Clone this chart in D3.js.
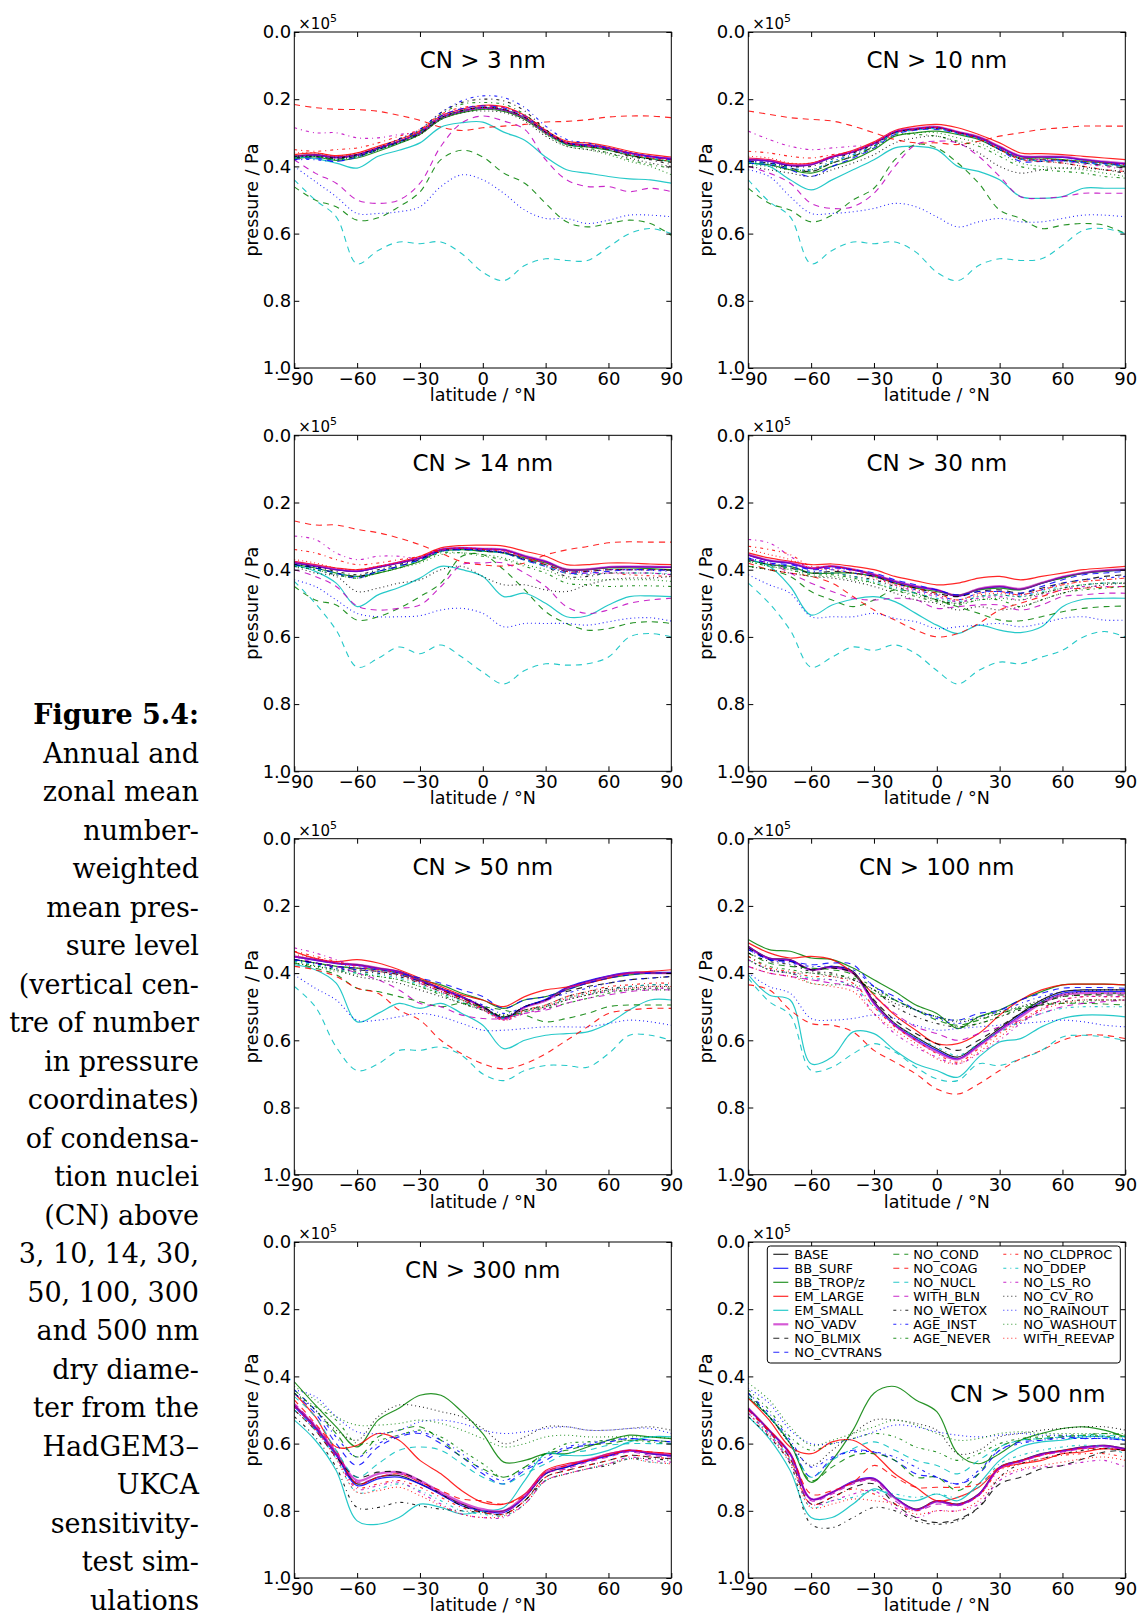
<!DOCTYPE html>
<html><head><meta charset="utf-8">
<script src="https://cdn.jsdelivr.net/npm/d3@7"></script>
<style>body{margin:0;background:#fff}svg{display:block}</style>
</head><body>
<script>
const latitudes = [-90,-80,-70,-60,-50,-40,-30,-20,-10,0,10,20,30,40,50,60,70,80,90];
const seriesNames = ["BASE","BB_SURF","BB_TROP/z","EM_LARGE","EM_SMALL","NO_VADV","NO_BLMIX","NO_CVTRANS","NO_COND","NO_COAG","NO_NUCL","WITH_BLN","NO_WETOX","AGE_INST","AGE_NEVER","NO_CLDPROC","NO_DDEP","NO_LS_RO","NO_CV_RO","NO_RAINOUT","NO_WASHOUT","WITH_REEVAP"];
const panelTitles = ["CN > 3 nm","CN > 10 nm","CN > 14 nm","CN > 30 nm","CN > 50 nm","CN > 100 nm","CN > 300 nm","CN > 500 nm"];
const xTicks = [-90,-60,-30,0,30,60,90];
const yTicks = [0.0,0.2,0.4,0.6,0.8,1.0];
const captionLines = ["Figure 5.4:","Annual and","zonal mean","number-","weighted","mean pres-","sure level","(vertical cen-","tre of number","in pressure","coordinates)","of condensa-","tion nuclei","(CN) above","3, 10, 14, 30,","50, 100, 300","and 500 nm","dry diame-","ter from the","HadGEM3–","UKCA","sensitivity-","test sim-","ulations"];

const cn3 = [
[0.37,0.365,0.372,0.365,0.345,0.325,0.30,0.255,0.235,0.225,0.232,0.255,0.298,0.33,0.336,0.345,0.36,0.37,0.378],
[0.372,0.367,0.374,0.366,0.346,0.326,0.30,0.256,0.236,0.226,0.232,0.256,0.298,0.33,0.336,0.345,0.36,0.37,0.376],
[0.378,0.372,0.382,0.375,0.355,0.332,0.305,0.26,0.24,0.23,0.236,0.26,0.302,0.335,0.342,0.352,0.367,0.377,0.385],
[0.365,0.36,0.368,0.36,0.34,0.32,0.295,0.25,0.23,0.218,0.222,0.248,0.292,0.325,0.33,0.34,0.355,0.365,0.372],
[0.372,0.377,0.39,0.405,0.37,0.352,0.33,0.283,0.27,0.268,0.298,0.322,0.372,0.41,0.42,0.43,0.437,0.44,0.45],
[0.371,0.366,0.373,0.366,0.346,0.326,0.301,0.256,0.236,0.226,0.232,0.256,0.299,0.331,0.337,0.346,0.361,0.371,0.377],
[0.375,0.37,0.378,0.37,0.35,0.328,0.302,0.256,0.234,0.224,0.23,0.254,0.298,0.333,0.34,0.35,0.366,0.378,0.388],
[0.38,0.375,0.385,0.372,0.35,0.326,0.298,0.25,0.228,0.22,0.226,0.25,0.295,0.33,0.338,0.347,0.362,0.372,0.38],
[0.461,0.50,0.52,0.56,0.553,0.52,0.476,0.38,0.352,0.372,0.42,0.45,0.51,0.565,0.58,0.57,0.56,0.57,0.605],
[0.216,0.225,0.23,0.231,0.236,0.248,0.263,0.283,0.293,0.285,0.28,0.275,0.268,0.266,0.261,0.253,0.25,0.25,0.255],
[0.44,0.50,0.55,0.69,0.65,0.625,0.63,0.625,0.66,0.715,0.74,0.695,0.675,0.68,0.68,0.64,0.60,0.585,0.60],
[0.38,0.42,0.45,0.50,0.51,0.50,0.45,0.34,0.27,0.25,0.265,0.29,0.38,0.44,0.46,0.46,0.475,0.465,0.475],
[0.37,0.37,0.375,0.365,0.345,0.318,0.29,0.24,0.21,0.20,0.205,0.235,0.29,0.33,0.34,0.35,0.37,0.38,0.395],
[0.38,0.38,0.385,0.37,0.345,0.32,0.29,0.24,0.205,0.19,0.195,0.225,0.28,0.32,0.33,0.345,0.36,0.37,0.38],
[0.375,0.37,0.38,0.37,0.35,0.325,0.295,0.245,0.215,0.21,0.215,0.245,0.295,0.335,0.345,0.36,0.38,0.395,0.405],
[0.35,0.355,0.35,0.345,0.33,0.31,0.29,0.245,0.225,0.22,0.225,0.25,0.295,0.33,0.335,0.345,0.36,0.375,0.385],
[0.375,0.37,0.38,0.37,0.35,0.33,0.30,0.255,0.235,0.225,0.23,0.255,0.30,0.335,0.34,0.35,0.365,0.375,0.385],
[0.285,0.30,0.30,0.315,0.315,0.305,0.295,0.25,0.23,0.22,0.225,0.25,0.295,0.33,0.34,0.345,0.36,0.37,0.38],
[0.37,0.37,0.375,0.37,0.35,0.33,0.305,0.26,0.24,0.235,0.24,0.265,0.31,0.34,0.35,0.36,0.375,0.39,0.40],
[0.40,0.445,0.49,0.54,0.54,0.535,0.52,0.46,0.425,0.44,0.48,0.53,0.555,0.555,0.57,0.56,0.545,0.545,0.55],
[0.37,0.37,0.38,0.37,0.35,0.33,0.305,0.26,0.24,0.23,0.235,0.26,0.305,0.34,0.35,0.365,0.385,0.40,0.425],
[0.36,0.36,0.37,0.36,0.345,0.325,0.30,0.255,0.235,0.225,0.23,0.255,0.30,0.33,0.34,0.35,0.365,0.375,0.38]];

const cn10 = [
[0.38,0.384,0.397,0.395,0.372,0.357,0.332,0.298,0.288,0.283,0.298,0.313,0.342,0.37,0.372,0.372,0.38,0.387,0.392],
[0.381,0.385,0.398,0.395,0.373,0.357,0.332,0.298,0.288,0.284,0.298,0.314,0.343,0.37,0.372,0.373,0.381,0.387,0.393],
[0.39,0.395,0.41,0.42,0.40,0.38,0.35,0.31,0.30,0.295,0.305,0.32,0.35,0.375,0.375,0.38,0.385,0.39,0.40],
[0.375,0.38,0.392,0.39,0.37,0.352,0.327,0.293,0.28,0.275,0.285,0.305,0.33,0.36,0.362,0.365,0.37,0.375,0.38],
[0.39,0.40,0.44,0.47,0.44,0.41,0.38,0.345,0.34,0.35,0.40,0.415,0.44,0.49,0.495,0.49,0.465,0.465,0.465],
[0.379,0.383,0.396,0.394,0.371,0.356,0.331,0.297,0.287,0.282,0.297,0.312,0.341,0.369,0.371,0.371,0.379,0.386,0.391],
[0.385,0.39,0.405,0.415,0.39,0.37,0.34,0.30,0.29,0.287,0.30,0.318,0.35,0.378,0.38,0.382,0.39,0.397,0.405],
[0.39,0.395,0.41,0.43,0.40,0.375,0.345,0.305,0.292,0.29,0.302,0.318,0.35,0.385,0.385,0.383,0.388,0.392,0.398],
[0.465,0.51,0.53,0.565,0.545,0.50,0.465,0.38,0.335,0.345,0.39,0.45,0.53,0.555,0.585,0.575,0.57,0.575,0.60],
[0.235,0.245,0.255,0.26,0.265,0.28,0.30,0.32,0.33,0.33,0.335,0.325,0.31,0.30,0.29,0.285,0.28,0.28,0.28],
[0.44,0.505,0.55,0.69,0.65,0.625,0.63,0.625,0.655,0.715,0.74,0.695,0.675,0.68,0.675,0.635,0.59,0.585,0.60],
[0.40,0.42,0.45,0.51,0.525,0.52,0.48,0.40,0.335,0.325,0.33,0.37,0.43,0.49,0.495,0.49,0.48,0.48,0.48],
[0.385,0.39,0.40,0.40,0.378,0.36,0.335,0.30,0.29,0.285,0.30,0.317,0.347,0.378,0.385,0.39,0.40,0.41,0.42],
[0.385,0.39,0.405,0.41,0.385,0.365,0.338,0.30,0.29,0.286,0.30,0.316,0.346,0.378,0.382,0.382,0.388,0.393,0.398],
[0.39,0.395,0.41,0.415,0.39,0.37,0.34,0.305,0.305,0.31,0.325,0.34,0.37,0.40,0.41,0.415,0.42,0.43,0.435],
[0.355,0.36,0.37,0.375,0.365,0.355,0.33,0.30,0.29,0.285,0.30,0.318,0.35,0.38,0.385,0.39,0.40,0.41,0.415],
[0.388,0.392,0.405,0.41,0.385,0.365,0.338,0.302,0.292,0.288,0.302,0.318,0.348,0.378,0.383,0.385,0.39,0.395,0.40],
[0.295,0.32,0.34,0.35,0.345,0.34,0.335,0.30,0.29,0.285,0.30,0.316,0.346,0.375,0.38,0.385,0.393,0.40,0.41],
[0.40,0.41,0.42,0.43,0.41,0.39,0.365,0.33,0.315,0.31,0.33,0.36,0.40,0.42,0.41,0.405,0.405,0.41,0.415],
[0.41,0.43,0.49,0.54,0.54,0.535,0.525,0.51,0.52,0.55,0.58,0.565,0.555,0.565,0.565,0.555,0.545,0.545,0.55],
[0.395,0.40,0.41,0.41,0.39,0.37,0.345,0.31,0.30,0.30,0.315,0.33,0.36,0.39,0.40,0.405,0.41,0.42,0.43],
[0.37,0.375,0.39,0.39,0.37,0.355,0.33,0.297,0.288,0.283,0.298,0.315,0.345,0.375,0.378,0.38,0.385,0.39,0.395]];

const cn14 = [
[0.379,0.389,0.40,0.405,0.393,0.38,0.366,0.341,0.336,0.339,0.341,0.36,0.376,0.40,0.40,0.393,0.392,0.392,0.393],
[0.38,0.39,0.40,0.405,0.393,0.38,0.365,0.34,0.336,0.338,0.341,0.36,0.376,0.40,0.399,0.393,0.391,0.392,0.393],
[0.385,0.395,0.41,0.42,0.41,0.395,0.375,0.345,0.34,0.345,0.35,0.365,0.38,0.40,0.40,0.395,0.395,0.397,0.40],
[0.375,0.385,0.395,0.40,0.39,0.377,0.36,0.335,0.328,0.327,0.33,0.345,0.36,0.385,0.385,0.38,0.38,0.383,0.385],
[0.386,0.405,0.44,0.51,0.475,0.453,0.425,0.39,0.40,0.42,0.48,0.47,0.50,0.54,0.537,0.505,0.48,0.478,0.48],
[0.378,0.388,0.399,0.404,0.392,0.379,0.365,0.34,0.335,0.338,0.34,0.359,0.375,0.399,0.399,0.392,0.391,0.391,0.392],
[0.385,0.395,0.41,0.42,0.405,0.39,0.37,0.345,0.34,0.345,0.35,0.37,0.385,0.405,0.405,0.40,0.40,0.40,0.40],
[0.385,0.395,0.41,0.425,0.405,0.39,0.37,0.345,0.34,0.342,0.35,0.372,0.39,0.41,0.41,0.405,0.40,0.40,0.402],
[0.45,0.49,0.505,0.55,0.54,0.515,0.48,0.44,0.36,0.355,0.40,0.46,0.525,0.56,0.58,0.575,0.56,0.555,0.56],
[0.255,0.267,0.267,0.28,0.29,0.306,0.326,0.351,0.376,0.386,0.389,0.38,0.356,0.341,0.331,0.32,0.317,0.318,0.318],
[0.435,0.50,0.58,0.69,0.664,0.63,0.65,0.624,0.66,0.705,0.74,0.70,0.68,0.684,0.68,0.66,0.60,0.59,0.60],
[0.40,0.42,0.45,0.508,0.52,0.515,0.505,0.45,0.385,0.38,0.38,0.41,0.45,0.51,0.53,0.52,0.50,0.49,0.485],
[0.385,0.392,0.405,0.415,0.40,0.385,0.368,0.345,0.34,0.342,0.35,0.37,0.39,0.42,0.42,0.41,0.41,0.41,0.415],
[0.39,0.40,0.415,0.42,0.405,0.39,0.37,0.345,0.34,0.342,0.348,0.368,0.385,0.405,0.405,0.40,0.40,0.402,0.405],
[0.39,0.40,0.415,0.425,0.41,0.395,0.375,0.35,0.35,0.36,0.37,0.39,0.41,0.44,0.445,0.45,0.448,0.448,0.45],
[0.34,0.35,0.37,0.385,0.38,0.37,0.36,0.34,0.336,0.34,0.345,0.365,0.385,0.41,0.415,0.41,0.415,0.418,0.42],
[0.388,0.398,0.41,0.42,0.405,0.39,0.372,0.347,0.342,0.345,0.352,0.372,0.39,0.41,0.415,0.41,0.41,0.41,0.412],
[0.30,0.31,0.35,0.37,0.36,0.36,0.366,0.343,0.337,0.34,0.345,0.365,0.38,0.405,0.41,0.41,0.41,0.41,0.415],
[0.39,0.41,0.42,0.465,0.455,0.44,0.43,0.40,0.39,0.42,0.445,0.445,0.46,0.465,0.445,0.43,0.425,0.425,0.42],
[0.43,0.45,0.49,0.53,0.54,0.54,0.537,0.52,0.515,0.53,0.57,0.56,0.56,0.56,0.565,0.555,0.545,0.543,0.553],
[0.39,0.40,0.415,0.425,0.41,0.395,0.38,0.355,0.35,0.355,0.365,0.385,0.40,0.425,0.43,0.43,0.43,0.43,0.435],
[0.37,0.38,0.395,0.40,0.39,0.378,0.362,0.34,0.335,0.338,0.342,0.362,0.38,0.405,0.405,0.40,0.40,0.40,0.40]];

const cn30 = [
[0.356,0.373,0.38,0.396,0.39,0.40,0.415,0.435,0.45,0.46,0.478,0.458,0.45,0.458,0.44,0.422,0.41,0.403,0.40],
[0.357,0.374,0.381,0.397,0.391,0.401,0.416,0.436,0.451,0.461,0.479,0.459,0.451,0.459,0.441,0.423,0.411,0.404,0.401],
[0.37,0.385,0.39,0.41,0.41,0.41,0.42,0.44,0.455,0.465,0.475,0.46,0.455,0.46,0.44,0.425,0.41,0.405,0.40],
[0.35,0.365,0.375,0.385,0.383,0.39,0.40,0.42,0.433,0.445,0.44,0.425,0.42,0.43,0.42,0.41,0.40,0.395,0.39],
[0.37,0.39,0.45,0.535,0.505,0.488,0.48,0.495,0.53,0.565,0.59,0.565,0.58,0.587,0.57,0.51,0.488,0.485,0.485],
[0.355,0.372,0.379,0.395,0.389,0.399,0.414,0.434,0.449,0.46,0.477,0.457,0.449,0.457,0.439,0.421,0.409,0.402,0.399],
[0.37,0.385,0.395,0.41,0.405,0.41,0.42,0.44,0.455,0.47,0.48,0.465,0.46,0.47,0.455,0.44,0.43,0.42,0.415],
[0.365,0.38,0.385,0.40,0.395,0.40,0.41,0.43,0.445,0.46,0.475,0.465,0.465,0.47,0.45,0.43,0.415,0.41,0.405],
[0.39,0.40,0.42,0.465,0.49,0.51,0.49,0.46,0.47,0.49,0.51,0.53,0.55,0.552,0.54,0.525,0.515,0.51,0.508],
[0.38,0.40,0.41,0.42,0.44,0.48,0.52,0.55,0.58,0.60,0.59,0.56,0.52,0.50,0.48,0.46,0.455,0.452,0.45],
[0.44,0.50,0.58,0.69,0.66,0.63,0.64,0.624,0.65,0.70,0.74,0.70,0.675,0.68,0.66,0.64,0.60,0.584,0.60],
[0.37,0.38,0.41,0.44,0.465,0.485,0.49,0.485,0.49,0.515,0.51,0.505,0.505,0.52,0.505,0.48,0.475,0.47,0.47],
[0.37,0.385,0.395,0.41,0.41,0.42,0.43,0.45,0.47,0.49,0.50,0.48,0.475,0.48,0.47,0.455,0.445,0.44,0.44],
[0.365,0.38,0.39,0.405,0.40,0.41,0.42,0.44,0.46,0.475,0.49,0.47,0.465,0.475,0.46,0.44,0.43,0.425,0.42],
[0.375,0.39,0.40,0.415,0.415,0.425,0.44,0.46,0.48,0.495,0.505,0.49,0.49,0.51,0.49,0.47,0.46,0.455,0.45],
[0.33,0.34,0.355,0.39,0.39,0.40,0.415,0.44,0.455,0.47,0.49,0.47,0.465,0.475,0.46,0.445,0.435,0.43,0.425],
[0.37,0.385,0.395,0.41,0.41,0.42,0.435,0.455,0.47,0.485,0.495,0.48,0.475,0.48,0.465,0.45,0.445,0.44,0.44],
[0.31,0.32,0.36,0.395,0.395,0.405,0.42,0.445,0.465,0.48,0.495,0.485,0.48,0.49,0.475,0.46,0.45,0.45,0.45],
[0.39,0.40,0.41,0.42,0.425,0.435,0.45,0.47,0.49,0.50,0.52,0.51,0.52,0.51,0.49,0.47,0.455,0.445,0.44],
[0.415,0.445,0.47,0.54,0.54,0.54,0.53,0.545,0.555,0.575,0.57,0.565,0.56,0.57,0.56,0.545,0.54,0.55,0.55],
[0.375,0.39,0.40,0.42,0.42,0.43,0.44,0.46,0.475,0.49,0.50,0.49,0.485,0.49,0.47,0.455,0.445,0.44,0.44],
[0.34,0.355,0.37,0.395,0.40,0.41,0.425,0.445,0.46,0.475,0.49,0.475,0.47,0.475,0.46,0.445,0.435,0.43,0.425]];

const cn50 = [
[0.35,0.36,0.37,0.375,0.385,0.395,0.42,0.445,0.47,0.50,0.535,0.50,0.48,0.445,0.425,0.41,0.40,0.40,0.40],
[0.352,0.362,0.372,0.377,0.387,0.397,0.422,0.447,0.472,0.50,0.533,0.50,0.478,0.443,0.423,0.408,0.398,0.398,0.398],
[0.36,0.37,0.38,0.385,0.39,0.40,0.42,0.435,0.46,0.48,0.505,0.48,0.47,0.45,0.43,0.415,0.405,0.40,0.40],
[0.336,0.356,0.366,0.36,0.37,0.39,0.415,0.44,0.465,0.48,0.50,0.47,0.45,0.442,0.43,0.415,0.40,0.395,0.39],
[0.375,0.39,0.43,0.545,0.52,0.49,0.505,0.49,0.52,0.555,0.625,0.60,0.585,0.58,0.575,0.55,0.51,0.48,0.48],
[0.35,0.36,0.37,0.375,0.385,0.396,0.422,0.447,0.472,0.502,0.537,0.502,0.482,0.447,0.427,0.41,0.40,0.40,0.40],
[0.36,0.37,0.38,0.39,0.395,0.405,0.425,0.45,0.475,0.50,0.53,0.50,0.48,0.455,0.44,0.43,0.42,0.415,0.41],
[0.36,0.37,0.38,0.385,0.39,0.40,0.415,0.43,0.45,0.47,0.505,0.48,0.47,0.45,0.43,0.415,0.405,0.40,0.40],
[0.37,0.385,0.405,0.445,0.455,0.47,0.485,0.50,0.49,0.50,0.51,0.525,0.545,0.535,0.52,0.50,0.495,0.495,0.495],
[0.38,0.39,0.41,0.445,0.46,0.51,0.54,0.60,0.64,0.67,0.685,0.67,0.64,0.60,0.56,0.52,0.51,0.505,0.505],
[0.44,0.50,0.62,0.69,0.67,0.63,0.63,0.62,0.645,0.70,0.72,0.69,0.675,0.675,0.68,0.64,0.585,0.585,0.60],
[0.35,0.37,0.38,0.40,0.42,0.45,0.49,0.50,0.525,0.535,0.535,0.52,0.51,0.49,0.475,0.465,0.455,0.45,0.45],
[0.36,0.37,0.385,0.395,0.40,0.41,0.43,0.455,0.48,0.505,0.53,0.51,0.495,0.47,0.455,0.445,0.44,0.435,0.435],
[0.36,0.372,0.385,0.39,0.395,0.405,0.425,0.445,0.47,0.495,0.52,0.50,0.48,0.46,0.445,0.43,0.42,0.415,0.41],
[0.365,0.378,0.39,0.40,0.41,0.42,0.44,0.465,0.49,0.51,0.53,0.515,0.505,0.49,0.475,0.46,0.45,0.445,0.445],
[0.335,0.35,0.365,0.38,0.39,0.40,0.425,0.45,0.475,0.505,0.535,0.51,0.495,0.47,0.455,0.44,0.435,0.43,0.43],
[0.365,0.375,0.39,0.40,0.405,0.415,0.435,0.46,0.485,0.51,0.535,0.515,0.50,0.475,0.46,0.45,0.44,0.435,0.435],
[0.325,0.34,0.36,0.38,0.39,0.40,0.43,0.455,0.48,0.51,0.54,0.52,0.505,0.48,0.465,0.455,0.45,0.445,0.445],
[0.37,0.38,0.39,0.41,0.42,0.43,0.45,0.47,0.49,0.51,0.525,0.51,0.50,0.48,0.465,0.45,0.445,0.44,0.44],
[0.405,0.445,0.48,0.54,0.54,0.53,0.52,0.53,0.55,0.57,0.57,0.565,0.56,0.56,0.56,0.55,0.54,0.545,0.555],
[0.37,0.38,0.395,0.405,0.41,0.42,0.44,0.46,0.48,0.505,0.525,0.51,0.50,0.48,0.465,0.455,0.45,0.45,0.45],
[0.345,0.355,0.37,0.385,0.395,0.405,0.43,0.455,0.48,0.51,0.54,0.515,0.50,0.475,0.46,0.45,0.445,0.44,0.44]];

const cn100 = [
[0.32,0.355,0.36,0.39,0.38,0.395,0.485,0.55,0.59,0.625,0.65,0.61,0.565,0.52,0.48,0.455,0.45,0.45,0.45],
[0.322,0.357,0.362,0.39,0.382,0.398,0.49,0.555,0.595,0.63,0.655,0.615,0.57,0.525,0.485,0.46,0.455,0.455,0.455],
[0.30,0.33,0.335,0.355,0.36,0.385,0.42,0.455,0.495,0.52,0.565,0.53,0.51,0.48,0.455,0.435,0.433,0.433,0.435],
[0.31,0.34,0.355,0.35,0.36,0.40,0.465,0.525,0.57,0.61,0.61,0.58,0.525,0.48,0.45,0.435,0.433,0.433,0.435],
[0.405,0.465,0.48,0.67,0.65,0.575,0.58,0.63,0.67,0.69,0.71,0.65,0.605,0.595,0.56,0.535,0.525,0.525,0.53],
[0.322,0.357,0.362,0.39,0.383,0.40,0.49,0.555,0.60,0.635,0.657,0.617,0.572,0.53,0.49,0.465,0.46,0.46,0.46],
[0.325,0.36,0.365,0.39,0.385,0.40,0.48,0.54,0.58,0.61,0.63,0.60,0.56,0.52,0.49,0.47,0.465,0.465,0.465],
[0.33,0.36,0.365,0.375,0.37,0.375,0.44,0.47,0.51,0.53,0.54,0.52,0.51,0.48,0.46,0.445,0.443,0.443,0.445],
[0.34,0.37,0.38,0.385,0.39,0.405,0.46,0.48,0.51,0.54,0.555,0.54,0.52,0.505,0.495,0.49,0.49,0.492,0.495],
[0.435,0.45,0.51,0.55,0.555,0.575,0.63,0.665,0.70,0.745,0.76,0.73,0.69,0.655,0.63,0.60,0.585,0.585,0.595],
[0.415,0.485,0.525,0.69,0.68,0.64,0.61,0.635,0.68,0.715,0.72,0.67,0.675,0.655,0.63,0.59,0.585,0.59,0.60],
[0.38,0.40,0.41,0.42,0.43,0.44,0.47,0.52,0.56,0.58,0.60,0.58,0.56,0.54,0.52,0.50,0.49,0.485,0.48],
[0.34,0.365,0.375,0.395,0.40,0.42,0.45,0.50,0.53,0.55,0.56,0.55,0.53,0.51,0.495,0.485,0.48,0.48,0.48],
[0.33,0.36,0.37,0.38,0.38,0.39,0.44,0.48,0.51,0.535,0.55,0.53,0.515,0.49,0.47,0.455,0.45,0.45,0.45],
[0.35,0.38,0.39,0.40,0.405,0.415,0.44,0.48,0.51,0.53,0.56,0.55,0.53,0.505,0.485,0.47,0.465,0.46,0.46],
[0.35,0.385,0.395,0.41,0.41,0.43,0.50,0.56,0.60,0.64,0.665,0.625,0.58,0.54,0.505,0.48,0.47,0.47,0.47],
[0.36,0.39,0.40,0.415,0.42,0.44,0.50,0.55,0.59,0.62,0.645,0.61,0.575,0.545,0.52,0.505,0.50,0.50,0.50],
[0.36,0.39,0.40,0.42,0.42,0.44,0.52,0.58,0.62,0.65,0.67,0.64,0.60,0.55,0.51,0.48,0.47,0.47,0.47],
[0.36,0.39,0.40,0.40,0.41,0.42,0.45,0.49,0.51,0.53,0.545,0.535,0.52,0.50,0.48,0.465,0.455,0.45,0.45],
[0.40,0.44,0.46,0.535,0.54,0.535,0.525,0.535,0.555,0.57,0.565,0.56,0.555,0.55,0.545,0.54,0.545,0.555,0.56],
[0.36,0.39,0.40,0.43,0.435,0.435,0.45,0.48,0.51,0.53,0.54,0.53,0.515,0.50,0.49,0.49,0.485,0.48,0.48],
[0.38,0.40,0.41,0.43,0.44,0.455,0.52,0.57,0.61,0.655,0.67,0.635,0.59,0.545,0.51,0.49,0.48,0.48,0.48]];

const cn300 = [
[0.486,0.55,0.63,0.72,0.70,0.695,0.72,0.75,0.78,0.80,0.80,0.76,0.69,0.67,0.65,0.635,0.62,0.63,0.635],
[0.49,0.555,0.635,0.725,0.705,0.70,0.72,0.752,0.785,0.80,0.805,0.76,0.69,0.67,0.652,0.637,0.622,0.63,0.637],
[0.416,0.485,0.55,0.61,0.53,0.495,0.456,0.456,0.505,0.57,0.655,0.65,0.63,0.63,0.61,0.59,0.575,0.58,0.585],
[0.45,0.52,0.61,0.605,0.57,0.59,0.65,0.69,0.74,0.775,0.78,0.75,0.68,0.66,0.65,0.63,0.62,0.625,0.63],
[0.53,0.59,0.68,0.83,0.84,0.82,0.78,0.79,0.81,0.80,0.79,0.71,0.63,0.635,0.635,0.62,0.595,0.58,0.58],
[0.485,0.548,0.628,0.71,0.69,0.685,0.71,0.745,0.775,0.795,0.80,0.755,0.685,0.665,0.648,0.632,0.62,0.628,0.633],
[0.50,0.56,0.64,0.70,0.685,0.685,0.71,0.75,0.785,0.805,0.81,0.77,0.70,0.68,0.665,0.65,0.635,0.64,0.645],
[0.45,0.51,0.60,0.665,0.61,0.58,0.57,0.60,0.64,0.69,0.72,0.68,0.65,0.615,0.605,0.595,0.585,0.59,0.595],
[0.44,0.50,0.57,0.64,0.58,0.56,0.55,0.59,0.64,0.675,0.70,0.67,0.63,0.62,0.605,0.60,0.59,0.59,0.595],
[0.47,0.54,0.62,0.72,0.70,0.69,0.715,0.74,0.765,0.77,0.78,0.755,0.685,0.665,0.65,0.635,0.62,0.625,0.63],
[0.46,0.52,0.62,0.70,0.66,0.62,0.61,0.62,0.66,0.70,0.72,0.69,0.66,0.63,0.62,0.605,0.60,0.60,0.60],
[0.48,0.545,0.625,0.715,0.70,0.69,0.715,0.75,0.78,0.80,0.805,0.76,0.69,0.675,0.655,0.64,0.625,0.635,0.64],
[0.52,0.58,0.67,0.79,0.79,0.775,0.785,0.795,0.80,0.805,0.81,0.77,0.71,0.69,0.675,0.665,0.645,0.645,0.65],
[0.44,0.50,0.58,0.64,0.60,0.575,0.565,0.59,0.63,0.68,0.71,0.675,0.64,0.61,0.60,0.59,0.585,0.59,0.595],
[0.45,0.49,0.53,0.60,0.59,0.575,0.56,0.58,0.62,0.66,0.70,0.67,0.63,0.60,0.595,0.59,0.59,0.595,0.60],
[0.49,0.555,0.64,0.73,0.72,0.71,0.73,0.76,0.79,0.805,0.81,0.77,0.70,0.68,0.665,0.65,0.635,0.64,0.645],
[0.50,0.56,0.645,0.745,0.735,0.72,0.74,0.77,0.80,0.81,0.815,0.78,0.71,0.69,0.675,0.66,0.645,0.655,0.66],
[0.49,0.555,0.64,0.735,0.725,0.715,0.745,0.78,0.81,0.82,0.82,0.78,0.71,0.69,0.675,0.66,0.64,0.65,0.655],
[0.45,0.50,0.56,0.59,0.52,0.485,0.49,0.505,0.52,0.555,0.60,0.58,0.55,0.55,0.56,0.56,0.555,0.55,0.56],
[0.44,0.46,0.52,0.565,0.57,0.56,0.535,0.53,0.54,0.56,0.57,0.565,0.555,0.55,0.56,0.56,0.555,0.555,0.57],
[0.43,0.47,0.52,0.545,0.545,0.54,0.53,0.54,0.56,0.585,0.61,0.60,0.58,0.575,0.58,0.58,0.58,0.58,0.585],
[0.50,0.56,0.645,0.745,0.74,0.73,0.755,0.785,0.81,0.82,0.815,0.78,0.71,0.69,0.675,0.66,0.645,0.655,0.66]];

const cn500 = [
[0.495,0.56,0.63,0.765,0.745,0.715,0.705,0.76,0.795,0.77,0.78,0.75,0.67,0.65,0.63,0.62,0.61,0.605,0.615],
[0.497,0.562,0.632,0.765,0.745,0.712,0.703,0.76,0.797,0.773,0.783,0.752,0.672,0.652,0.632,0.622,0.612,0.607,0.617],
[0.465,0.52,0.60,0.715,0.65,0.56,0.45,0.43,0.47,0.505,0.63,0.66,0.63,0.59,0.57,0.555,0.55,0.56,0.58],
[0.465,0.53,0.61,0.63,0.595,0.59,0.63,0.69,0.73,0.77,0.76,0.73,0.675,0.66,0.65,0.63,0.625,0.615,0.62],
[0.52,0.585,0.68,0.82,0.82,0.78,0.735,0.76,0.77,0.75,0.77,0.72,0.65,0.61,0.595,0.59,0.58,0.58,0.59],
[0.495,0.56,0.63,0.765,0.745,0.715,0.705,0.762,0.797,0.772,0.782,0.752,0.672,0.652,0.632,0.622,0.612,0.607,0.617],
[0.50,0.565,0.645,0.78,0.76,0.73,0.72,0.78,0.82,0.835,0.825,0.79,0.72,0.70,0.675,0.665,0.645,0.625,0.62],
[0.45,0.52,0.60,0.70,0.645,0.62,0.625,0.65,0.69,0.70,0.72,0.69,0.62,0.595,0.59,0.58,0.585,0.585,0.59],
[0.45,0.52,0.60,0.71,0.67,0.635,0.63,0.65,0.70,0.70,0.74,0.69,0.61,0.59,0.585,0.58,0.575,0.57,0.575],
[0.50,0.56,0.63,0.75,0.74,0.715,0.665,0.70,0.73,0.73,0.73,0.72,0.67,0.65,0.635,0.62,0.615,0.615,0.62],
[0.46,0.52,0.60,0.70,0.65,0.615,0.595,0.62,0.65,0.665,0.69,0.65,0.61,0.59,0.585,0.58,0.575,0.575,0.58],
[0.50,0.565,0.64,0.77,0.75,0.72,0.71,0.77,0.80,0.78,0.785,0.755,0.675,0.655,0.635,0.625,0.615,0.61,0.62],
[0.52,0.58,0.66,0.84,0.85,0.82,0.79,0.80,0.83,0.84,0.83,0.79,0.70,0.66,0.645,0.63,0.62,0.615,0.62],
[0.45,0.51,0.59,0.67,0.64,0.625,0.625,0.64,0.67,0.70,0.72,0.68,0.62,0.60,0.59,0.585,0.585,0.585,0.59],
[0.44,0.50,0.58,0.62,0.60,0.585,0.57,0.58,0.61,0.625,0.65,0.63,0.60,0.585,0.58,0.575,0.575,0.578,0.58],
[0.50,0.565,0.645,0.78,0.76,0.735,0.75,0.78,0.80,0.77,0.78,0.755,0.68,0.66,0.645,0.635,0.63,0.63,0.64],
[0.51,0.57,0.65,0.79,0.77,0.76,0.74,0.75,0.76,0.75,0.76,0.73,0.66,0.635,0.62,0.61,0.605,0.61,0.63],
[0.51,0.575,0.655,0.78,0.77,0.75,0.74,0.79,0.82,0.80,0.80,0.78,0.71,0.68,0.67,0.665,0.655,0.65,0.67],
[0.46,0.52,0.60,0.665,0.62,0.57,0.53,0.53,0.54,0.56,0.63,0.62,0.58,0.57,0.56,0.555,0.55,0.55,0.56],
[0.435,0.48,0.56,0.60,0.60,0.585,0.565,0.545,0.55,0.565,0.575,0.58,0.575,0.57,0.575,0.575,0.58,0.58,0.585],
[0.42,0.47,0.55,0.605,0.59,0.57,0.55,0.53,0.545,0.57,0.59,0.585,0.57,0.565,0.57,0.57,0.57,0.57,0.57],
[0.51,0.575,0.655,0.79,0.78,0.765,0.77,0.78,0.81,0.80,0.80,0.77,0.70,0.675,0.665,0.655,0.645,0.64,0.65]];

const panelData = [cn3, cn10, cn14, cn30, cn50, cn100, cn300, cn500];

// styles (matplotlib classic colours / line styles)
const C = {k:"#000000", b:"#0000ff", g:"#008000", r:"#ff0000", c:"#00bfbf", m:"#bf00bf"};
const seriesColor = ["k","b","g","r","c","m","k","b","g","r","c","m","k","b","g","r","c","m","k","b","g","r"].map(k=>C[k]);
const seriesDash = [null,null,null,null,null,null,"6,5","6,5","6,5","6,5","6,5","6,5","3,4,1,4","3,4,1,4","3,4,1,4","3,4,1,4","3,4,1,4","3,4,1,4","1,3","1,3","1,3","1,3"];
const seriesWidth = seriesNames.map((n,i)=> i===5 ? 2.2 : (i<5 ? 1.2 : 1.1));
const seriesOpacity = seriesNames.map((n,i)=> i===5 ? 0.65 : 0.85);

const W = 1137, H = 1616;
const svg = d3.select("body").append("svg").attr("width", W).attr("height", H)
  .style("font-family", "'DejaVu Sans', sans-serif");

const colLeft = [294.3, 748.3], rowTop = [32, 435.3, 838.7, 1242];
const PW = 377, PH = 336;

panelData.forEach((data, p) => {
  const left = colLeft[p % 2], top = rowTop[Math.floor(p / 2)];
  const x = d3.scaleLinear().domain([-90, 90]).range([left, left + PW]);
  const y = d3.scaleLinear().domain([0, 1]).range([top, top + PH]);
  const g = svg.append("g");
  const clipId = "clip" + p;
  g.append("clipPath").attr("id", clipId).append("rect")
    .attr("x", left).attr("y", top).attr("width", PW).attr("height", PH);

  const line = d3.line().x((d, i) => x(latitudes[i])).y(d => y(d)).curve(d3.curveCatmullRom.alpha(0.5));
  const lg = g.append("g").attr("clip-path", `url(#${clipId})`);
  data.forEach((s, i) => {
    lg.append("path").attr("d", line(s)).attr("fill", "none")
      .attr("stroke", seriesColor[i]).attr("stroke-width", seriesWidth[i])
      .attr("stroke-opacity", seriesOpacity[i])
      .attr("stroke-dasharray", seriesDash[i]);
  });

  // axes
  const fmtX = d3.format("d"), fmtY = d3.format(".1f");
  const ax = g.append("g").attr("transform", `translate(0,${top + PH})`)
    .call(d3.axisBottom(x).tickValues(xTicks).tickSize(-5).tickPadding(4).tickFormat(fmtX));
  const ay = g.append("g").attr("transform", `translate(${left},0)`)
    .call(d3.axisLeft(y).tickValues(yTicks).tickSize(-5).tickPadding(3).tickFormat(fmtY));
  const at = g.append("g").attr("transform", `translate(0,${top})`)
    .call(d3.axisTop(x).tickValues(xTicks).tickSize(-5).tickFormat(""));
  const ar = g.append("g").attr("transform", `translate(${left + PW},0)`)
    .call(d3.axisRight(y).tickValues(yTicks).tickSize(-5).tickFormat(""));
  [ax, ay, at, ar].forEach(a => {
    a.select(".domain").remove();
    a.selectAll(".tick line").attr("stroke", "#000").attr("stroke-width", 1);
    a.selectAll(".tick text").attr("fill", "#000").style("font-size", "18px").style("font-family", "'DejaVu Sans', sans-serif");
  });

  g.append("rect").attr("x", left).attr("y", top).attr("width", PW).attr("height", PH)
    .attr("fill", "none").attr("stroke", "#000").attr("stroke-width", 1);

  // offset text
  const off = g.append("text").attr("x", left + 4).attr("y", top - 3).style("font-size", "15px");
  off.append("tspan").text("×10");
  off.append("tspan").attr("dy", -7).style("font-size", "11px").text("5");

  // axis labels
  g.append("text").attr("x", left + PW / 2).attr("y", top + PH + 33)
    .attr("text-anchor", "middle").style("font-size", "17.5px").text("latitude / °N");
  g.append("text").attr("transform", `translate(${left - 36},${top + PH / 2}) rotate(-90)`)
    .attr("text-anchor", "middle").style("font-size", "17.5px").text("pressure / Pa");

  // title
  const t = g.append("text").style("font-size", "23px").text(panelTitles[p]);
  if (p === 7) t.attr("x", left + PW - 20).attr("y", top + 160).attr("text-anchor", "end");
  else t.attr("x", left + PW / 2).attr("y", top + 36).attr("text-anchor", "middle");

  // legend in last panel
  if (p === 7) {
    const lgd = g.append("g");
    lgd.append("rect").attr("x", left + 19).attr("y", top + 4).attr("width", 353).attr("height", 117)
      .attr("rx", 3).attr("fill", "#fff").attr("stroke", "#000").attr("stroke-width", 1);
    const colLine = [left + 25, left + 145, left + 255];
    const colText = [left + 46, left + 165, left + 275];
    seriesNames.forEach((n, i) => {
      const col = i < 8 ? 0 : (i < 15 ? 1 : 2);
      const row = i < 8 ? i : (i < 15 ? i - 8 : i - 15);
      const cy = top + 12.3 + 14 * row;
      lgd.append("line").attr("x1", colLine[col]).attr("x2", colLine[col] + 15)
        .attr("y1", cy).attr("y2", cy).attr("stroke", seriesColor[i])
        .attr("stroke-width", seriesWidth[i]).attr("stroke-opacity", seriesOpacity[i])
        .attr("stroke-dasharray", seriesDash[i]);
      lgd.append("text").attr("x", colText[col]).attr("y", cy).attr("dy", "0.36em")
        .style("font-size", "13px").text(n);
    });
  }
});

// caption
const cap = svg.append("g").style("font-family", "'DejaVu Serif', serif").style("font-size", "27px");
captionLines.forEach((s, i) => {
  cap.append("text").attr("x", 199).attr("y", 724 + i * 38.5).attr("text-anchor", "end")
    .style("font-weight", i === 0 ? "bold" : "normal").text(s);
});
</script>
</body></html>
